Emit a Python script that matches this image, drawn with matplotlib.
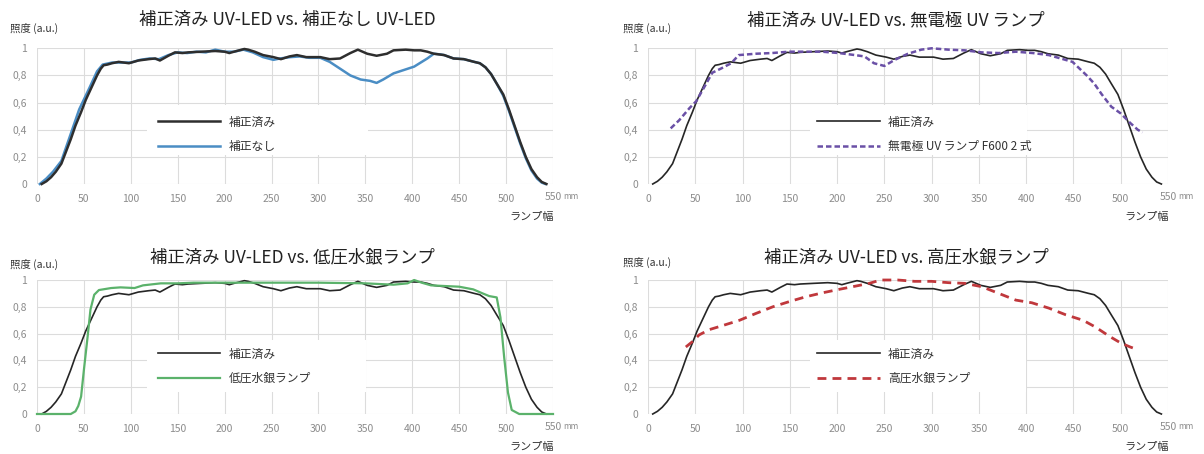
import matplotlib
matplotlib.use("Agg")
import matplotlib.pyplot as plt
from matplotlib.patches import Rectangle

plt.rcParams['font.family'] = ['Noto Sans CJK JP', 'DejaVu Sans']

# ---------------- data ----------------
# corrected UV-LED profile (same in all panels)
corr_x = [5, 10, 15, 20, 26, 31, 36, 41, 47, 52, 56, 60, 64, 68, 71, 75, 80, 87, 98, 108, 119, 126, 131,
          140, 147, 155, 161, 175, 190, 200, 205, 210, 221, 225, 232, 241, 252, 260, 269, 277, 287, 302,
          312, 323, 334, 342, 352, 362, 373, 380, 393, 402, 409, 416, 423, 434, 444, 455, 466, 472, 478,
          484, 490, 497, 503, 509, 515, 521, 527, 533, 538, 543]
corr_y = [0, 0.02, 0.05, 0.09, 0.15, 0.24, 0.33, 0.43, 0.53, 0.62, 0.68, 0.74, 0.80, 0.85, 0.875, 0.88,
          0.89, 0.90, 0.89, 0.91, 0.92, 0.925, 0.91, 0.945, 0.97, 0.965, 0.97, 0.975, 0.98, 0.975, 0.965,
          0.975, 0.995, 0.99, 0.975, 0.95, 0.935, 0.92, 0.94, 0.95, 0.935, 0.935, 0.92, 0.925, 0.965,
          0.99, 0.96, 0.945, 0.96, 0.985, 0.99, 0.985, 0.985, 0.975, 0.96, 0.95, 0.925, 0.92, 0.90, 0.89,
          0.86, 0.81, 0.74, 0.66, 0.55, 0.43, 0.31, 0.20, 0.11, 0.05, 0.015, 0]

# uncorrected UV-LED
uncorr_x = [3, 10, 17, 26, 35, 45, 56, 64, 70, 80, 90, 100, 110, 120, 130, 140, 150, 160, 170, 180, 190,
            200, 210, 220, 230, 241, 252, 259, 270, 280, 290, 302, 312, 323, 334, 345, 355, 362, 369, 380,
            391, 402, 409, 416, 423, 430, 434, 444, 455, 466, 472, 478, 484, 490, 497, 503, 509, 515, 521,
            527, 533, 538, 542]
uncorr_y = [0, 0.04, 0.09, 0.17, 0.35, 0.55, 0.71, 0.83, 0.88, 0.895, 0.895, 0.895, 0.915, 0.925, 0.92,
            0.95, 0.97, 0.965, 0.975, 0.97, 0.99, 0.975, 0.975, 0.99, 0.97, 0.935, 0.915, 0.925, 0.935,
            0.94, 0.93, 0.93, 0.90, 0.85, 0.80, 0.77, 0.76, 0.745, 0.77, 0.815, 0.84, 0.865, 0.895, 0.925,
            0.96, 0.955, 0.95, 0.925, 0.92, 0.90, 0.89, 0.86, 0.81, 0.74, 0.65, 0.54, 0.42, 0.30, 0.19,
            0.10, 0.04, 0.01, 0]

# electrodeless UV lamp F600 x2
eless_x = [24, 33, 44, 51, 60, 68, 77, 88, 96, 114, 131, 149, 167, 184, 202, 219, 229, 239, 250, 261, 275,
           289, 300, 318, 335, 353, 371, 389, 407, 424, 449, 464, 472, 480, 490, 500, 510, 518, 523]
eless_y = [0.41, 0.47, 0.56, 0.61, 0.72, 0.82, 0.85, 0.89, 0.95, 0.96, 0.965, 0.975, 0.975, 0.975, 0.965,
           0.95, 0.94, 0.89, 0.87, 0.915, 0.96, 0.99, 1.0, 0.99, 0.985, 0.97, 0.965, 0.975, 0.965, 0.95,
           0.90, 0.80, 0.74, 0.66, 0.57, 0.52, 0.45, 0.40, 0.38]

# low-pressure mercury lamp
lowhg_x = [0, 36, 41, 44, 47, 50, 54, 57, 61, 66, 79, 89, 104, 113, 132, 150, 167, 200, 250, 300, 350, 380,
           395, 402, 410, 420, 435, 450, 465, 475, 482, 490, 494, 498, 502, 506, 514, 550]
lowhg_y = [0, 0, 0.02, 0.06, 0.13, 0.33, 0.58, 0.78, 0.89, 0.925, 0.94, 0.945, 0.94, 0.96, 0.975, 0.975,
           0.98, 0.98, 0.98, 0.98, 0.975, 0.965, 0.975, 1.0, 0.98, 0.96, 0.955, 0.95, 0.93, 0.90, 0.88,
           0.87, 0.72, 0.42, 0.16, 0.03, 0, 0]

# high-pressure mercury lamp
highhg_x = [40, 47, 54, 65, 79, 97, 114, 132, 150, 167, 185, 202, 220, 234, 246, 264, 282, 300, 318, 335,
            353, 371, 389, 406, 424, 442, 460, 473, 488, 500, 510, 518]
highhg_y = [0.50, 0.54, 0.59, 0.63, 0.66, 0.70, 0.75, 0.80, 0.84, 0.875, 0.905, 0.93, 0.955, 0.975, 1.0,
            1.0, 0.99, 0.99, 0.98, 0.975, 0.95, 0.90, 0.85, 0.83, 0.79, 0.74, 0.70, 0.65, 0.58, 0.53,
            0.50, 0.48]

x_ticks = [0, 50, 100, 150, 200, 250, 300, 350, 400, 450, 500, 550]
y_ticks = [0, 0.2, 0.4, 0.6, 0.8, 1.0]
y_ticklabels = ['0', '0,2', '0,4', '0,6', '0,8', '1']

titles = ['補正済み UV-LED vs. 補正なし UV-LED',
          '補正済み UV-LED vs. 無電極 UV ランプ',
          '補正済み UV-LED vs. 低圧水銀ランプ',
          '補正済み UV-LED vs. 高圧水銀ランプ']
label_corr = '補正済み'
labels_other = ['補正なし', '無電極 UV ランプ F600 2 式', '低圧水銀ランプ', '高圧水銀ランプ']
ylabel_text = '照度 (a.u.)'
xlabel_text = 'ランプ幅'

# ---------------- layout ----------------
W, H = 1204, 454
fig = plt.figure(figsize=(W / 100, H / 100), dpi=100)

def fx(px):
    return px / W

def fy(py):
    return 1 - py / H

# (left px, right px, top px (y=1), bottom px (y=0))
panels = [(37, 553, 48.3, 184), (648, 1168, 48.3, 184), (37, 553, 280, 414), (648, 1168, 280, 414)]
legend_pos = [(0.234, 0.368), (0.325, 0.368), (0.234, 0.358), (0.325, 0.358)]
white_box = [(0.213, 0.214, 0.428, 0.368), (0.312, 0.214, 0.417, 0.368),
             (0.213, 0.164, 0.425, 0.388), (0.312, 0.164, 0.415, 0.388)]
title_pos = [(287, 20), (896, 20), (292, 257), (906, 257)]
ylab_pos = [(10, 28), (623, 28), (10, 264), (623, 262)]

other_data = [(uncorr_x, uncorr_y), (eless_x, eless_y), (lowhg_x, lowhg_y), (highhg_x, highhg_y)]
other_style = [dict(color='#4a8dc4', lw=1.8, ls='-'),
               dict(color='#6a50a6', lw=1.8, ls=(0, (2.2, 1.2))),
               dict(color='#5bb26b', lw=1.6, ls='-'),
               dict(color='#c0383c', lw=2.0, ls=(0, (3.2, 2.2)))]
corr_style = [dict(color='#2e2e2e', lw=1.8), dict(color='#262626', lw=1.2),
              dict(color='#262626', lw=1.2), dict(color='#262626', lw=1.2)]

grid_c = '#dcdcdc'
tick_c = '#8c8c8c'

for i, (l, r, t, b) in enumerate(panels):
    ax = fig.add_axes([fx(l), fy(b), fx(r) - fx(l), fy(t) - fy(b)])
    ax.set_xlim(0, 550)
    ax.set_ylim(0, 1)
    for s in ax.spines.values():
        s.set_visible(False)
    ax.set_xticks(x_ticks)
    ax.set_xticklabels([str(v) if v != 550 else '' for v in x_ticks])
    ax.set_yticks(y_ticks)
    ax.set_yticklabels(y_ticklabels)
    ax.tick_params(length=0, labelsize=7.5, labelcolor=tick_c, pad=7)
    ax.grid(True, color=grid_c, lw=0.8)
    ax.set_axisbelow(True)

    bx, by, bw, bh = white_box[i]
    ax.add_patch(Rectangle((bx, by), bw, bh, transform=ax.transAxes, facecolor='white',
                           edgecolor='none', zorder=1))

    ox, oy = other_data[i]
    if i == 0:
        h2, = ax.plot(ox, oy, label=labels_other[i], zorder=3, clip_on=False, **other_style[i])
        h1, = ax.plot(corr_x, corr_y, label=label_corr, zorder=4, clip_on=False, **corr_style[i])
    else:
        h1, = ax.plot(corr_x, corr_y, label=label_corr, zorder=3, clip_on=False, **corr_style[i])
        h2, = ax.plot(ox, oy, label=labels_other[i], zorder=4, clip_on=False, **other_style[i])

    leg = ax.legend(handles=[h1, h2], loc='center left', bbox_to_anchor=legend_pos[i],
                    frameon=False, fontsize=8.5, handlelength=5.3, handletextpad=0.7,
                    labelspacing=0.95, borderpad=0, borderaxespad=0)
    for txt in leg.get_texts():
        txt.set_color('#333333')

    # 550 mm label
    ax.text(550, -0.095, '550', transform=ax.get_xaxis_transform(), ha='center', va='center',
            fontsize=7.5, color=tick_c)
    ax.annotate('mm', xy=(550, -0.095), xycoords=ax.get_xaxis_transform(), xytext=(7.5, 0),
                textcoords='offset points', ha='left', va='center', fontsize=6, color=tick_c)

    # x label
    fig.text(fx(r + 1), fy(b + 33), xlabel_text, ha='right', va='center', fontsize=8, color='#333333')

    tx, ty = title_pos[i]
    fig.text(fx(tx), fy(ty), titles[i], ha='center', va='center', fontsize=12.5, color='#222222')
    lx, ly = ylab_pos[i]
    fig.text(fx(lx), fy(ly), ylabel_text, ha='left', va='center', fontsize=7.5, color='#333333')

fig.savefig('out.png', dpi=100, facecolor='white')
